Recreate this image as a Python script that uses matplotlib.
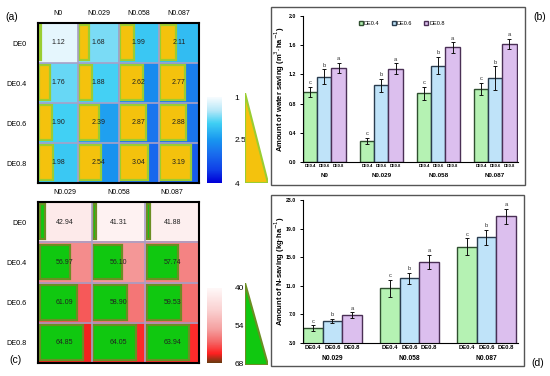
import numpy as np
import matplotlib
matplotlib.use('Agg')
from matplotlib import pyplot as plt
from matplotlib.colors import LinearSegmentedColormap
from matplotlib.patches import Rectangle, Polygon

plt.rcParams['font.family'] = ['Liberation Sans', 'DejaVu Sans']

#Heatmap data
n_levels_a = ['N0', 'N0.029', 'N0.058', 'N0.087']
n_levels_c = ['N0.029', 'N0.058', 'N0.087']
de_levels = ['DE0', 'DE0.4', 'DE0.6', 'DE0.8']
water_grid = [[1.12, 1.68, 1.99, 2.11],
              [1.76, 1.88, 2.62, 2.77],
              [1.90, 2.39, 2.87, 2.88],
              [1.98, 2.54, 3.04, 3.19]]
nsave_grid = [[42.94, 41.31, 41.88],
              [56.97, 56.10, 57.74],
              [61.09, 58.90, 59.53],
              [64.85, 64.05, 63.94]]

#Bar data
bar_series = ['DE0.4', 'DE0.6', 'DE0.8']
water_groups = ['N0', 'N0.029', 'N0.058', 'N0.087']
water_mean = [[0.96, 0.29, 0.94, 1.00],
              [1.17, 1.05, 1.32, 1.15],
              [1.29, 1.28, 1.57, 1.62]]
water_err = [[0.07, 0.04, 0.09, 0.08],
             [0.10, 0.09, 0.12, 0.16],
             [0.07, 0.07, 0.07, 0.07]]
water_letters = [['c', 'c', 'c', 'c'], ['b', 'b', 'b', 'b'], ['a', 'a', 'a', 'a']]
n_groups = ['N0.029', 'N0.058', 'N0.087']
n_mean = [[5.05, 10.63, 16.49],
          [6.07, 12.07, 17.79],
          [6.90, 14.30, 20.72]]
n_err = [[0.42, 1.16, 1.16],
         [0.33, 0.77, 1.05],
         [0.37, 1.02, 1.07]]
n_letters = [['c', 'c', 'c'], ['b', 'b', 'b'], ['a', 'a', 'a']]

W, H = 550., 376.
def box(x0, y0, x1, y1):
    return [x0 / W, 1 - y1 / H, (x1 - x0) / W, (y1 - y0) / H]

cmapBlue = LinearSegmentedColormap.from_list('wb', [(0, '#f6fcff'), (0.15, '#b8e8f8'), (0.3, '#40d0f4'),
                                                    (0.5, '#1896f0'), (0.65, '#1a70ee'), (0.85, '#1040e8'), (1, '#0000d8')])
cmapRed = LinearSegmentedColormap.from_list('wr', [(0, '#fff8f8'), (0.3, '#fad0d0'), (0.55, '#f5a0a0'),
                                                   (0.72, '#f46868'), (0.88, '#ff2020'), (1, '#6b3a10')])

fig = plt.figure(figsize=(5.5, 3.76), dpi=100)

def heatmap(rect, grid, cols, cmap, vmin, vmax, rectFace, rectEdge, scale):
    ax = fig.add_axes(rect)
    grid = np.array(grid)
    ax.imshow(grid, cmap=cmap, vmin=vmin, vmax=vmax, aspect='auto', interpolation='nearest')
    for i in range(grid.shape[0]):
        for j in range(grid.shape[1]):
            frac = np.clip((grid[i, j] - vmin) / (vmax - vmin) * scale, 0.03, 0.95)
            ax.add_patch(Rectangle((j - 0.47, i - 0.44), frac, 0.86, facecolor=rectFace, edgecolor=rectEdge, lw=1.6))
            ax.text(j, i, '%.2f' % grid[i, j], ha='center', va='center', fontsize=5, color='#222222')
    for k in range(1, grid.shape[0]):
        ax.axhline(k - 0.5, color='#a8a0c8', lw=1.2)
    for k in range(1, grid.shape[1]):
        ax.axvline(k - 0.5, color='#a8a0c8', lw=1.2)
    ax.set_xticks(range(len(cols)))
    ax.set_xticklabels(cols, fontsize=5)
    ax.xaxis.tick_top()
    ax.set_yticks(range(len(de_levels)))
    ax.set_yticklabels(de_levels, fontsize=5.2)
    ax.tick_params(length=0, pad=4)
    ax.tick_params(axis='y', pad=8)
    for s in ax.spines.values():
        s.set_linewidth(1.5)
    return ax

heatmap(box(38, 23, 199, 183), water_grid, n_levels_a, cmapBlue, 1, 4, '#f4c20d', '#9acd32', 1.05)
heatmap(box(38, 202, 199, 363), nsave_grid, n_levels_c, cmapRed, 40, 68, '#10c810', '#6b8e23', 0.92)

def colorbar(rect, cmap, ticks):
    ax = fig.add_axes(rect)
    ax.imshow(np.linspace(0, 1, 100)[:, None], cmap=cmap, aspect='auto', extent=[0, 1, 1, 0])
    ax.set_xticks([])
    ax.yaxis.tick_right()
    ax.set_yticks([0, 0.5, 1])
    ax.set_yticklabels(ticks, fontsize=6)
    ax.tick_params(length=0, pad=9)
    for s in ax.spines.values():
        s.set_visible(False)

colorbar(box(207, 97, 222, 183), cmapBlue, ['1', '2.5', '4'])
colorbar(box(207, 288, 222, 363), cmapRed, ['40', '54', '68'])

def triangle(rect, face, edge):
    ax = fig.add_axes(rect)
    ax.add_patch(Polygon([(0, 1), (0, 0), (1, 0)], closed=True, facecolor=face, edgecolor=edge, lw=1.5))
    ax.set_xlim(0, 1); ax.set_ylim(0, 1)
    ax.axis('off')

triangle(box(245, 93, 268, 183), '#f4c20d', '#9acd32')
triangle(box(245, 283, 268, 365), '#10c810', '#6b8e23')

barColors = ['#b5f2b3', '#bfe3f9', '#dcbfee']
barEdges = ['#2f4f2f', '#2a3d4f', '#4a2f55']

def barpanel(rect, groups, mean, err, letters, ylim, yticks, ylabel, width, labelY, subFont, groupFont, legend):
    ax = fig.add_axes(rect)
    xg = np.arange(len(groups))
    xs, labs = [], []
    for k in range(3):
        pos = xg + (k - 1) * width
        ax.bar(pos, mean[k], width, color=barColors[k], edgecolor=barEdges[k], lw=1.0, label=bar_series[k], zorder=2)
        ax.errorbar(pos, mean[k], yerr=err[k], fmt='none', ecolor='#111111', elinewidth=0.7, capsize=1.3, capthick=0.7, zorder=3)
        for p, m, e, l in zip(pos, mean[k], err[k], letters[k]):
            ax.text(p, m + e + (ylim[1] - ylim[0]) * 0.012, l, ha='center', va='bottom', fontsize=4.2, color='#333333')
        xs += list(pos); labs += [bar_series[k]] * len(groups)
    ax.set_xticks(xs)
    ax.set_xticklabels(labs, fontsize=subFont, fontweight='bold')
    ax.tick_params(axis='x', length=0, pad=1.5)
    for g, x in zip(groups, xg):
        ax.text(x, labelY, g, ha='center', va='center', fontsize=groupFont, fontweight='bold',
                transform=ax.get_xaxis_transform())
    ax.set_ylim(*ylim)
    ax.set_yticks(yticks)
    ax.set_yticklabels(['%.1f' % t for t in yticks], fontsize=3.8, fontweight='bold')
    ax.tick_params(axis='y', length=2, width=0.7, pad=3)
    ax.spines['top'].set_visible(False)
    ax.spines['right'].set_visible(False)
    ax.spines['left'].set_linewidth(0.8)
    ax.spines['bottom'].set_linewidth(0.8)
    ax.set_ylabel(ylabel, fontsize=5.5, fontweight='bold')
    ax.yaxis.set_label_coords(-0.075, 0.5)
    if legend:
        ax.legend(loc='upper center', ncol=3, frameon=False, fontsize=4, handlelength=0.7, handleheight=0.7,
                  handletextpad=0.2, columnspacing=2.2, bbox_to_anchor=(0.46, 1.0))
    return ax

axB = barpanel(box(303, 16, 518, 162), water_groups, water_mean, water_err, water_letters, (0, 2.0),
               [0, 0.4, 0.8, 1.2, 1.6, 2.0], 'Amount of water saving (m$^3$·ha$^{-1}$)', 0.25, -0.095, 3, 4.5, True)
axB.set_xlim(-0.375, 3.4)
axD = barpanel(box(303, 200, 518, 343), n_groups, n_mean, n_err, n_letters, (3, 23),
               [3, 7, 11, 15, 19, 23], 'Amount of N-saving (kg·ha$^{-1}$)', 0.255, -0.105, 4.2, 4.8, False)
axD.set_xlim(-0.383, 2.41)

#Frames round the bar panels
fig.add_artist(Rectangle((271 / W, 1 - 185 / H), 254 / W, 178 / H, transform=fig.transFigure, fill=False, edgecolor='#555555', lw=1.0))
fig.add_artist(Rectangle((271 / W, 1 - 366 / H), 253 / W, 171 / H, transform=fig.transFigure, fill=False, edgecolor='#555555', lw=1.0))

fig.text(12 / W, 1 - 17 / H, '(a)', fontsize=7.5, ha='center', va='center')
fig.text(540 / W, 1 - 17 / H, '(b)', fontsize=7.5, ha='center', va='center')
fig.text(15 / W, 1 - 360 / H, '(c)', fontsize=7.5, ha='center', va='center')
fig.text(538 / W, 1 - 363 / H, '(d)', fontsize=7.5, ha='center', va='center')

fig.savefig('out.png', dpi=100)
plt.close('all')
